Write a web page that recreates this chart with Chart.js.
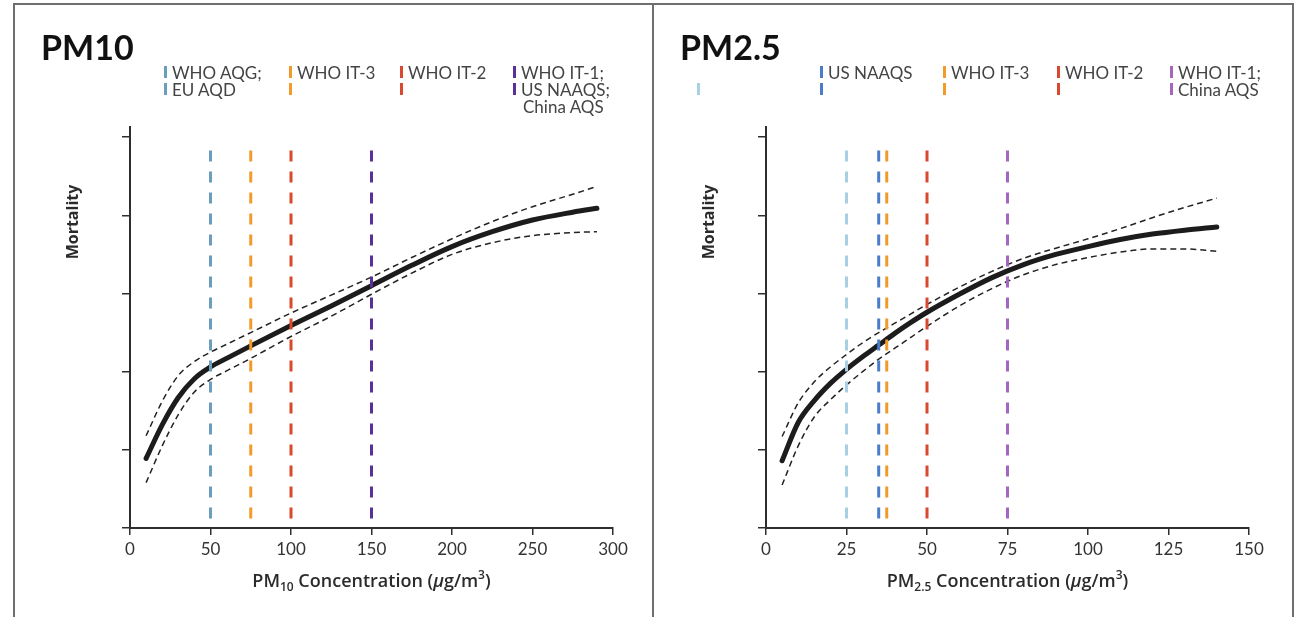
<!DOCTYPE html>
<html>
<head>
<meta charset="utf-8">
<script src="https://cdn.jsdelivr.net/npm/chart.js@4.4.1/dist/chart.umd.min.js"></script>
<style>
    body { margin: 0; background: #fff; width: 1307px; height: 617px; overflow: hidden; position: relative; }
    .frame { position: absolute; left: 13px; top: 3px; width: 1277px; height: 640px; border: 2px solid #6e6e6e; border-bottom: none; }
    .divider { position: absolute; left: 652px; top: 4px; width: 2px; height: 613px; background: #6e6e6e; }
    .panel { position: absolute; top: 0; }
    .title { position: absolute; font: bold 34px Lato, sans-serif; line-height: 34px; color: #111; }
    .lg { position: absolute; font: 17px Lato, sans-serif; line-height: 17px; color: #444; white-space: nowrap; }
    .mk { position: absolute; width: 3px; height: 12px; }
</style>
</head>
<body>
<div class="panel" style="left:0;width:653px;height:617px"><canvas id="pm10Chart" width="653" height="617"></canvas></div>
<div class="panel" style="left:653px;width:654px;height:617px"><canvas id="pm25Chart" width="654" height="617"></canvas></div>
<div class="frame"></div>
<div class="divider"></div>

<div class="title" style="left:41px;top:30px">PM10</div>
<div class="title" style="left:680px;top:30px">PM2.5</div>

<!-- PM10 legend -->
<div class="mk" style="left:164px;top:66px;background:#6b9dbd"></div><div class="lg" style="left:172px;top:64px">WHO AQG;</div>
<div class="mk" style="left:164px;top:83px;background:#6b9dbd"></div><div class="lg" style="left:172px;top:81px">EU AQD</div>
<div class="mk" style="left:289px;top:66px;background:#f29b2b"></div><div class="lg" style="left:297px;top:64px">WHO IT-3</div>
<div class="mk" style="left:289px;top:83px;background:#f29b2b"></div>
<div class="mk" style="left:400px;top:66px;background:#d9482f"></div><div class="lg" style="left:408px;top:64px">WHO IT-2</div>
<div class="mk" style="left:400px;top:83px;background:#d9482f"></div>
<div class="mk" style="left:513px;top:66px;background:#5b2f98"></div><div class="lg" style="left:521px;top:64px">WHO IT-1;</div>
<div class="mk" style="left:513px;top:83px;background:#5b2f98"></div><div class="lg" style="left:521px;top:81px">US NAAQS;</div>
<div class="lg" style="left:523px;top:98px">China AQS</div>

<!-- PM2.5 legend -->
<div class="mk" style="left:820px;top:66px;background:#4a7cc9"></div><div class="lg" style="left:828px;top:64px">US NAAQS</div>
<div class="mk" style="left:943px;top:66px;background:#f29b2b"></div><div class="lg" style="left:951px;top:64px">WHO IT-3</div>
<div class="mk" style="left:1057px;top:66px;background:#d9482f"></div><div class="lg" style="left:1065px;top:64px">WHO IT-2</div>
<div class="mk" style="left:1170px;top:66px;background:#a466be"></div><div class="lg" style="left:1178px;top:64px">WHO IT-1;</div>
<div class="mk" style="left:697px;top:83px;background:#a9cfe4"></div>
<div class="mk" style="left:820px;top:83px;background:#4a7cc9"></div>
<div class="mk" style="left:943px;top:83px;background:#f29b2b"></div>
<div class="mk" style="left:1057px;top:83px;background:#d9482f"></div>
<div class="mk" style="left:1170px;top:83px;background:#a466be"></div><div class="lg" style="left:1178px;top:81px">China AQS</div>

<script>
// PM10 exposure-response curve
const pm10X = [10, 20, 30, 40, 50, 60, 75, 100, 125, 150, 175, 200, 225, 250, 275, 290];
const pm10Mid = [0.89, 1.32, 1.67, 1.91, 2.06, 2.17, 2.33, 2.59, 2.84, 3.1, 3.36, 3.6, 3.79, 3.94, 4.04, 4.09];
const pm10Upper = [1.18, 1.62, 1.95, 2.13, 2.25, 2.35, 2.5, 2.75, 2.98, 3.21, 3.46, 3.7, 3.92, 4.11, 4.27, 4.37];
const pm10Lower = [0.58, 1.05, 1.45, 1.74, 1.9, 2.01, 2.17, 2.45, 2.71, 2.99, 3.26, 3.5, 3.65, 3.74, 3.78, 3.79];
const pm10Limits = [50, 75, 100, 150];
const pm10LimitColors = ['#6b9dbd', '#f29b2b', '#d9482f', '#5b2f98'];

// PM2.5 exposure-response curve
const pm25X = [5, 10, 15, 20, 25, 30, 35, 40, 45, 50, 60, 70, 80, 90, 100, 110, 120, 130, 140];
const pm25Mid = [0.86, 1.35, 1.63, 1.85, 2.03, 2.19, 2.34, 2.49, 2.63, 2.76, 2.99, 3.2, 3.37, 3.5, 3.6, 3.69, 3.76, 3.81, 3.85];
const pm25Upper = [1.17, 1.6, 1.87, 2.06, 2.22, 2.37, 2.5, 2.62, 2.74, 2.86, 3.08, 3.28, 3.45, 3.58, 3.7, 3.83, 3.97, 4.1, 4.22];
const pm25Lower = [0.55, 1.05, 1.42, 1.64, 1.83, 2.0, 2.16, 2.3, 2.44, 2.58, 2.84, 3.06, 3.24, 3.37, 3.46, 3.53, 3.57, 3.57, 3.54];
const pm25Limits = [25, 35, 37.5, 50, 75];
const pm25LimitColors = ['#a9cfe4', '#4a7cc9', '#f29b2b', '#d9482f', '#a466be'];

// axis ranges and tick spacing
const pm10Range = [0, 300];
const pm10Step = 50;
const pm25Range = [0, 150];
const pm25Step = 25;
const yRange = [0, 5.13];
const limitTop = 4.83;

const axisColor = '#2e2e2e';

function toPoints(xs, ys) {
    return xs.map((x, i) => ({ x: x, y: ys[i] }));
}

// Axis titles with sub/superscripts
const axisTitles = {
    id: 'axisTitles',
    afterDraw(chart, args, opts) {
        const ctx = chart.ctx;
        const area = chart.chartArea;
        const base = '600 18px "Open Sans"';
        const small = '600 12px "Open Sans"';
        const parts = [
            { t: 'PM', f: base, dy: 0 },
            { t: opts.sub, f: small, dy: 4 },
            { t: ' Concentration (', f: base, dy: 0 },
            { t: 'µ', f: 'italic 600 18px "Open Sans"', dy: 0 },
            { t: 'g/m', f: base, dy: 0 },
            { t: '3', f: small, dy: -8 },
            { t: ')', f: base, dy: 0 }
        ];
        ctx.save();
        let total = 0;
        parts.forEach(p => {
            ctx.font = p.f;
            p.w = ctx.measureText(p.t).width;
            total += p.w;
        });
        let x = (area.left + area.right) / 2 - total / 2;
        ctx.fillStyle = '#2b2b2b';
        ctx.textBaseline = 'alphabetic';
        parts.forEach(p => {
            ctx.font = p.f;
            ctx.fillText(p.t, x, 587 + p.dy);
            x += p.w;
        });

        ctx.translate(opts.yTitleX, 222);
        ctx.rotate(-Math.PI / 2);
        ctx.font = 'bold 16px "Open Sans"';
        ctx.textAlign = 'center';
        ctx.textBaseline = 'middle';
        ctx.fillText('Mortality', 0, 0);
        ctx.restore();
    }
};

function buildChart(canvasId, cfg) {
    const ctx = document.getElementById(canvasId);
    if (!ctx) return;

    const datasets = [];
    // guideline lines first so they sit on top of the curve
    cfg.limits.forEach((v, i) => {
        datasets.push({
            data: [{ x: v, y: limitTop }, { x: v, y: yRange[0] }],
            borderColor: cfg.limitColors[i],
            borderWidth: 3,
            borderDash: [11, 10],
            pointRadius: 0,
            tension: 0
        });
    });
    datasets.push({
        data: toPoints(cfg.xs, cfg.mid),
        borderColor: '#1c1c1c',
        borderWidth: 5,
        borderCapStyle: 'round',
        pointRadius: 0,
        cubicInterpolationMode: 'monotone'
    });
    [cfg.upper, cfg.lower].forEach(ys => {
        datasets.push({
            data: toPoints(cfg.xs, ys),
            borderColor: '#222',
            borderWidth: 1.5,
            borderDash: [6, 4],
            pointRadius: 0,
            cubicInterpolationMode: 'monotone'
        });
    });

    new Chart(ctx, {
        type: 'line',
        data: { datasets: datasets },
        options: {
            responsive: false,
            animation: false,
            layout: { padding: { top: 127, right: cfg.padRight, left: 0, bottom: 0 } },
            plugins: {
                legend: { display: false },
                tooltip: { enabled: false },
                axisTitles: { sub: cfg.sub, yTitleX: cfg.yTitleX }
            },
            scales: {
                x: {
                    type: 'linear',
                    min: cfg.range[0],
                    max: cfg.range[1],
                    ticks: {
                        stepSize: cfg.step,
                        color: '#333',
                        padding: 4,
                        font: { family: 'Lato', size: 17 }
                    },
                    grid: { drawOnChartArea: false, tickLength: 7, color: axisColor, lineWidth: 1.5 },
                    border: { color: axisColor, width: 2 },
                    afterFit: scale => { scale.height = 89; }
                },
                y: {
                    min: yRange[0],
                    max: yRange[1],
                    ticks: { display: false, stepSize: 1, includeBounds: false },
                    grid: { drawOnChartArea: false, tickLength: 8, color: axisColor, lineWidth: 1.5 },
                    border: { color: axisColor, width: 2 },
                    afterFit: scale => { scale.width = cfg.axisLeft; }
                }
            }
        },
        plugins: [axisTitles]
    });
}

document.addEventListener('DOMContentLoaded', function() {
    buildChart('pm10Chart', {
        xs: pm10X, mid: pm10Mid, upper: pm10Upper, lower: pm10Lower,
        limits: pm10Limits, limitColors: pm10LimitColors,
        range: pm10Range, step: pm10Step, sub: '10',
        axisLeft: 130, padRight: 40, yTitleX: 73
    });
    buildChart('pm25Chart', {
        xs: pm25X, mid: pm25Mid, upper: pm25Upper, lower: pm25Lower,
        limits: pm25Limits, limitColors: pm25LimitColors,
        range: pm25Range, step: pm25Step, sub: '2.5',
        axisLeft: 113, padRight: 58, yTitleX: 56
    });
});
</script>
</body>
</html>
